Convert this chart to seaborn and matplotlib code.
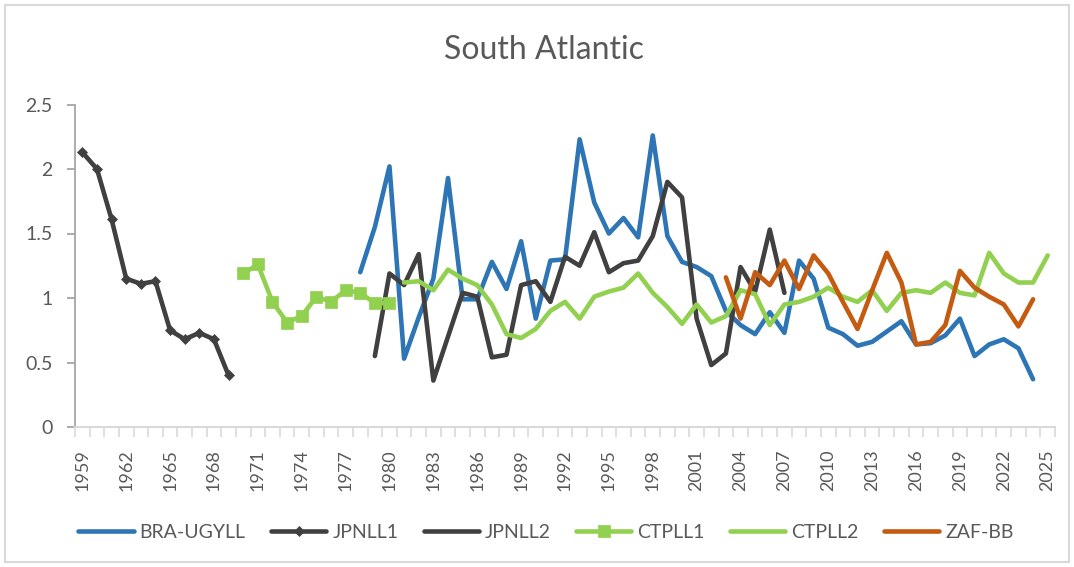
import numpy as np
import pandas as pd
import matplotlib
matplotlib.use("Agg")
import matplotlib.pyplot as plt
from matplotlib.patches import Rectangle
from matplotlib.ticker import FuncFormatter, FixedLocator
import seaborn as sns

# ---------------- data ----------------
title = "South Atlantic"

years_bra = list(range(1978, 2025))
bra_ugyll = [1.20, 1.55, 2.02, 0.53, 0.85, 1.15, 1.93, 0.99, 0.99, 1.28,
             1.07, 1.44, 0.84, 1.29, 1.30, 2.23, 1.74, 1.50, 1.62, 1.47,
             2.26, 1.48, 1.28, 1.24, 1.17, 0.90, 0.79, 0.72, 0.89, 0.73,
             1.29, 1.15, 0.77, 0.72, 0.63, 0.66, 0.74, 0.82, 0.64, 0.65,
             0.71, 0.84, 0.55, 0.64, 0.68, 0.61, 0.37]

years_jpn1 = list(range(1959, 1970))
jpnll1 = [2.13, 2.00, 1.61, 1.15, 1.11, 1.13, 0.75, 0.68, 0.73, 0.68, 0.40]

years_jpn2 = list(range(1979, 2008))
jpnll2 = [0.55, 1.19, 1.10, 1.34, 0.36, 0.70, 1.04, 1.01, 0.54, 0.56,
          1.10, 1.13, 0.97, 1.32, 1.25, 1.51, 1.20, 1.27, 1.29, 1.48,
          1.90, 1.78, 0.84, 0.48, 0.57, 1.24, 1.05, 1.53, 1.04]

years_ctp1 = list(range(1970, 1981))
ctpll1 = [1.19, 1.26, 0.97, 0.81, 0.86, 1.01, 0.97, 1.06, 1.04, 0.96, 0.96]

years_ctp2 = list(range(1981, 2026))
ctpll2 = [1.12, 1.13, 1.06, 1.22, 1.15, 1.10, 0.95, 0.72, 0.69, 0.76,
          0.90, 0.97, 0.84, 1.01, 1.05, 1.08, 1.19, 1.04, 0.93, 0.80,
          0.95, 0.81, 0.86, 1.06, 1.03, 0.79, 0.95, 0.97, 1.01, 1.08,
          1.01, 0.97, 1.06, 0.90, 1.04, 1.06, 1.04, 1.12, 1.04, 1.02,
          1.35, 1.19, 1.12, 1.12, 1.33]

years_zaf = list(range(2003, 2025))
zaf_bb = [1.16, 0.84, 1.20, 1.10, 1.29, 1.07, 1.33, 1.19, 0.97, 0.76,
          1.06, 1.35, 1.12, 0.64, 0.66, 0.79, 1.21, 1.08, 1.01, 0.95,
          0.78, 0.99]

tick_years = list(range(1959, 2026, 3))
y_ticks = [0, 0.5, 1, 1.5, 2, 2.5]

series = [
    ("BRA-UGYLL", years_bra, bra_ugyll, "#2E75B6", None, 0),
    ("JPNLL1", years_jpn1, jpnll1, "#404040", "D", 5),
    ("JPNLL2", years_jpn2, jpnll2, "#404040", None, 0),
    ("CTPLL1", years_ctp1, ctpll1, "#92D050", "s", 8.5),
    ("CTPLL2", years_ctp2, ctpll2, "#92D050", None, 0),
    ("ZAF-BB", years_zaf, zaf_bb, "#C55A11", None, 0),
]

# ---------------- style ----------------
sns.set_theme(style="white")
plt.rcParams["font.family"] = ["Lato", "DejaVu Sans"]
TXT = "#595959"

W, H = 1074, 567
fig = plt.figure(figsize=(W / 100, H / 100), dpi=100)
fig.patch.set_facecolor("white")

left, right = 75 / W, 1055 / W
bottom, top = 1 - 427 / H, 1 - 104.5 / H
ax = fig.add_axes([left, bottom, right - left, top - bottom])

for i, (name, yrs, vals, col, mk, ms) in enumerate(series):
    df = pd.DataFrame({"year": yrs, "value": vals})
    kw = {}
    if mk:
        kw = dict(marker=mk, markersize=ms, markeredgecolor=col,
                  markerfacecolor=col, markeredgewidth=0.5)
    sns.lineplot(data=df, x="year", y="value", ax=ax, color=col,
                 linewidth=3.3, label=name, zorder=2 + i,
                 solid_capstyle="round", solid_joinstyle="round", **kw)

ax.set_xlim(1958.5, 2025.5)
ax.set_ylim(0, 2.5)
ax.set_xlabel("")
ax.set_ylabel("")

ax.xaxis.set_major_locator(FixedLocator(tick_years))
ax.xaxis.set_minor_locator(FixedLocator(np.arange(1958.5, 2026, 1.0)))
ax.set_xticklabels([str(y) for y in tick_years], rotation=90)
ax.yaxis.set_major_locator(FixedLocator(y_ticks))
ax.yaxis.set_major_formatter(FuncFormatter(lambda v, p: f"{v:g}"))

ax.tick_params(axis="x", which="major", length=0, pad=16,
               labelsize=13, labelcolor=TXT)
ax.tick_params(axis="x", which="minor", length=7, width=1.2,
               color="#d9d9d9", direction="out", bottom=True)
ax.tick_params(axis="y", which="major", length=6, width=1.3,
               color="#a6a6a6", direction="out", left=True, pad=10,
               labelsize=14, labelcolor=TXT)

for s in ["top", "right"]:
    ax.spines[s].set_visible(False)
ax.spines["left"].set_color("#a6a6a6")
ax.spines["left"].set_linewidth(1.3)
ax.spines["bottom"].set_color("#d9d9d9")
ax.spines["bottom"].set_linewidth(1.5)
ax.grid(False)

leg = ax.get_legend()
if leg:
    leg.remove()
handles, labels = ax.get_legend_handles_labels()
fig.legend(handles, labels, loc="center", ncol=6,
           bbox_to_anchor=(546 / W, 1 - 532 / H), frameon=False,
           fontsize=14, labelcolor=TXT, handlelength=2.85,
           handletextpad=0.3, columnspacing=1.3)

fig.text(544 / W, 1 - 50 / H, title, ha="center", va="center",
         fontsize=23, color=TXT)

fig.patches.append(Rectangle((5 / W, 5 / H), (W - 10) / W, (H - 10) / H,
                             transform=fig.transFigure, fill=False,
                             edgecolor="#d9d9d9", linewidth=1.5))

fig.savefig("out.png", dpi=100, facecolor="white")
